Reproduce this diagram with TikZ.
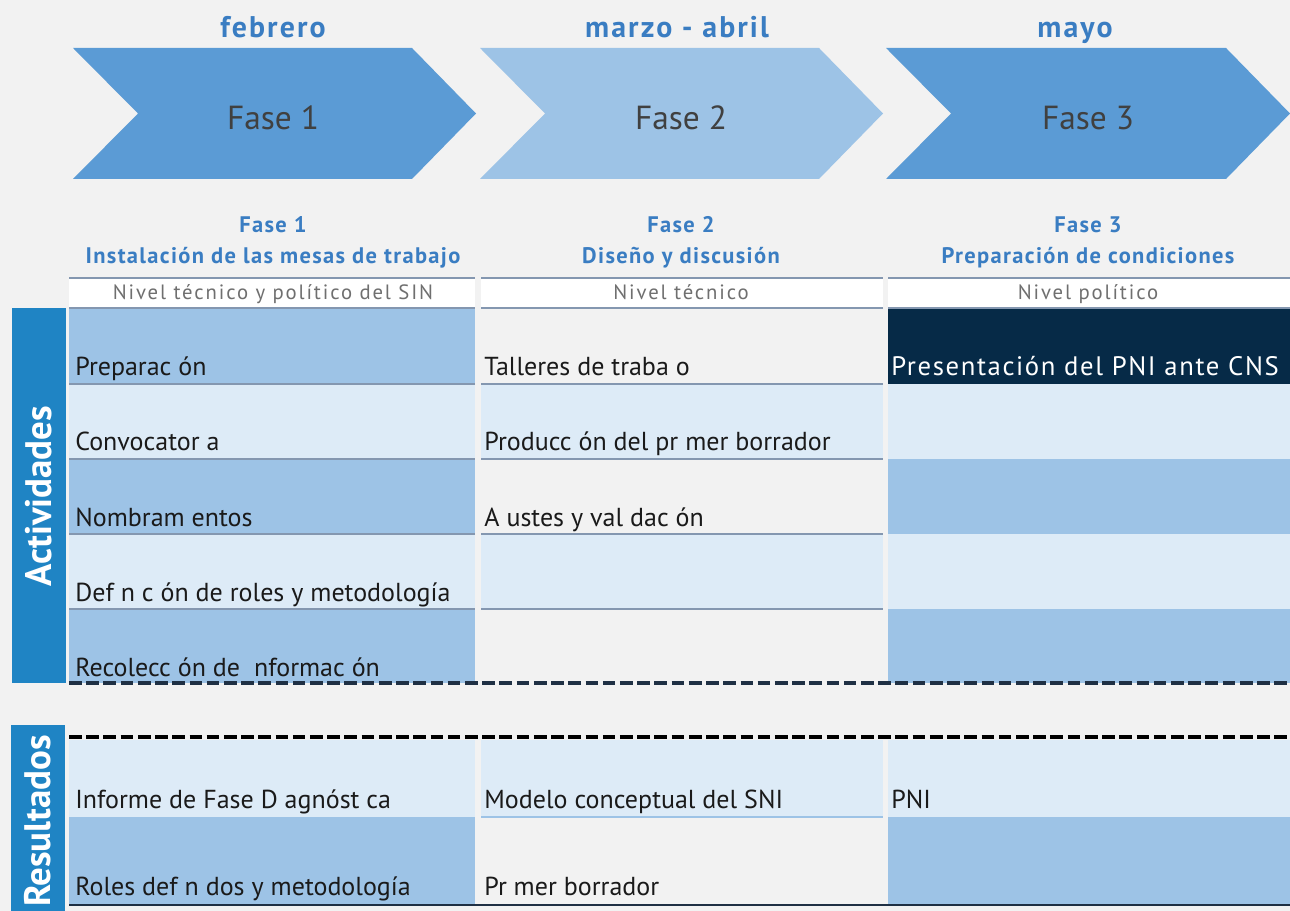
\documentclass[tikz,border=0pt]{standalone}
\usepackage{fontspec}
\setmainfont{PT Sans}
\newfontfamily\spacedfont[LetterSpace=6]{PT Sans}
\newfontfamily\nivfont[LetterSpace=9]{PT Sans}
\newfontfamily\widefont[LetterSpace=7]{PT Sans}
\definecolor{bgc}{HTML}{F2F2F2}
\definecolor{chevA}{HTML}{5B9BD5}
\definecolor{chevB}{HTML}{9DC3E6}
\definecolor{cellM}{HTML}{9DC3E6}
\definecolor{cellL}{HTML}{DDEBF7}
\definecolor{navy}{HTML}{062A47}
\definecolor{headblue}{HTML}{3A7DC2}
\definecolor{sideblue}{HTML}{1F84C4}
\definecolor{rule}{HTML}{8497B0}
\definecolor{ink}{HTML}{1A1A1A}
\definecolor{graytext}{HTML}{6F6F6F}
\definecolor{dashA}{HTML}{1F3044}
\begin{document}
\begin{tikzpicture}[x=0.02cm,y=-0.02cm,
  month/.style={anchor=base,inner sep=0,text=headblue,font=\widefont\bfseries\fontsize{17}{20}\selectfont},
  chevtext/.style={anchor=base,inner sep=0,text=black!75,font=\fontsize{19}{22}\selectfont},
  phase/.style={anchor=base,inner sep=0,text=headblue,font=\spacedfont\bfseries\fontsize{12.8}{15}\selectfont},
  nivel/.style={anchor=base,inner sep=0,text=graytext,font=\nivfont\fontsize{11.8}{13}\selectfont},
  celltext/.style={anchor=base west,inner sep=0,text=ink,font=\fontsize{14.8}{17}\selectfont},
  sidetext/.style={rotate=90,inner sep=0,text=white,font=\bfseries\fontsize{21}{24}\selectfont},
  rulel/.style={draw=rule,line width=1.2pt},
  dashl/.style={line width=2.2pt,dash pattern=on 7.2pt off 2.6pt}
]
\useasboundingbox (0,0) rectangle (1290,911);
\fill[bgc] (0,0) rectangle (1290,911);

% chevrons
\fill[chevA] (73,48) -- (412,48) -- (476,113.5) -- (412,179) -- (73,179) -- (138,113.5) -- cycle;
\fill[chevB] (480,48) -- (819,48) -- (883,113.5) -- (819,179) -- (480,179) -- (545,113.5) -- cycle;
\fill[chevA] (886,48) -- (1226,48) -- (1290,113.5) -- (1226,179) -- (886,179) -- (951,113.5) -- cycle;
\node[chevtext] (c1) at (273,130) {Fase 1};
\node[chevtext] (c2) at (681,130) {Fase 2};
\node[chevtext] (c3) at (1088,130) {Fase 3};

% months
\node[month] (m1) at (273,38) {febrero};
\node[month] (m2) at (677,38) {marzo - abril};
\node[month] (m3) at (1075,38) {mayo};

% phase headings
\node[phase] (p1a) at (273,233) {Fase 1};
\node[phase] (p1b) at (273,264) {Instalación de las mesas de trabajo};
\node[phase] (p2a) at (681,233) {Fase 2};
\node[phase] (p2b) at (681,264) {Diseño y discusión};
\node[phase] (p3a) at (1088,233) {Fase 3};
\node[phase] (p3b) at (1088,264) {Preparación de condiciones};

% nivel row
\fill[white] (69,278) rectangle (475,308);
\fill[white] (481,278) rectangle (883,308);
\fill[white] (888,278) rectangle (1290,308);
\foreach \a/\b in {69/475,481/883,888/1290}{
  \draw[rulel] (\a,278) -- (\b,278);
  \draw[rulel] (\a,308) -- (\b,308);
}
\node[nivel] (n1) at (273,300) {Nivel técnico y político del SIN};
\node[nivel] (n2) at (681,300) {Nivel técnico};
\node[nivel] (n3) at (1088,300) {Nivel político};

% side labels
\fill[sideblue] (12,308) rectangle (66,683);
\node[sidetext] (sa) at (39,496) {Actividades};
\fill[sideblue] (11,725) rectangle (65,911);
\node[sidetext] (sr) at (38,821) {Resultados};

% activity cells
\fill[cellM] (69,309) rectangle (475,384);
\fill[cellL] (69,384) rectangle (475,459);
\fill[cellM] (69,459) rectangle (475,534);
\fill[cellL] (69,534) rectangle (475,609);
\fill[cellM] (69,609) rectangle (475,683);
\fill[cellL] (481,384) rectangle (883,459);
\fill[cellL] (481,534) rectangle (883,609);
\fill[navy] (888,309) rectangle (1290,384);
\fill[cellL] (888,384) rectangle (1290,459);
\fill[cellM] (888,459) rectangle (1290,534);
\fill[cellL] (888,534) rectangle (1290,609);
\fill[cellM] (888,609) rectangle (1290,683);
\foreach \yy in {384,459,534,609}{
  \draw[rulel] (69,\yy) -- (475,\yy);
  \draw[rulel] (481,\yy) -- (883,\yy);
}

\node[celltext] (a1) at (75,376) {Preparac ón};
\node[celltext] (a2) at (75,451) {Convocator a};
\node[celltext] (a3) at (75,526) {Nombram entos};
\node[celltext] (a4) at (75,601) {Def n c ón de roles y metodología};
\node[celltext] (a5) at (75,676) {Recolecc ón de\ \ nformac ón};
\node[celltext] (b1) at (484,376) {Talleres de traba o};
\node[celltext] (b2) at (484,451) {Producc ón del pr mer borrador};
\node[celltext] (b3) at (484,526) {A ustes y val dac ón};
\node[celltext,text=white,font=\spacedfont\fontsize{15.2}{17}\selectfont] (d1) at (891,376) {Presentación del PNI ante CNS};

% result cells
\fill[cellL] (69,740) rectangle (475,817);
\fill[cellM] (69,817) rectangle (475,905);
\fill[cellL] (481,740) rectangle (883,817);
\draw[draw=cellM,line width=1.2pt] (481,817) -- (883,817);
\fill[cellL] (888,740) rectangle (1290,817);
\fill[cellM] (888,817) rectangle (1290,905);

\node[celltext] (r1) at (75,808) {Informe de Fase D agnóst ca};
\node[celltext] (r2) at (75,895) {Roles def n dos y metodología};
\node[celltext] (r3) at (484,808) {Modelo conceptual del SNI};
\node[celltext] (r4) at (484,895) {Pr mer borrador};
\node[celltext] (r5) at (891,808) {PNI};

% dashed and bottom lines
\coordinate (da1) at (69,683);
\coordinate (da2) at (1290,683);
\coordinate (db1) at (69,737);
\coordinate (db2) at (1290,737);
\coordinate (bl1) at (69,905);
\coordinate (bl2) at (1290,905);
\draw[dashl,dashA] (da1) -- (da2);
\draw[dashl,black] (db1) -- (db2);
\draw[dashA,line width=1.3pt] (bl1) -- (bl2);
\end{tikzpicture}
\end{document}
